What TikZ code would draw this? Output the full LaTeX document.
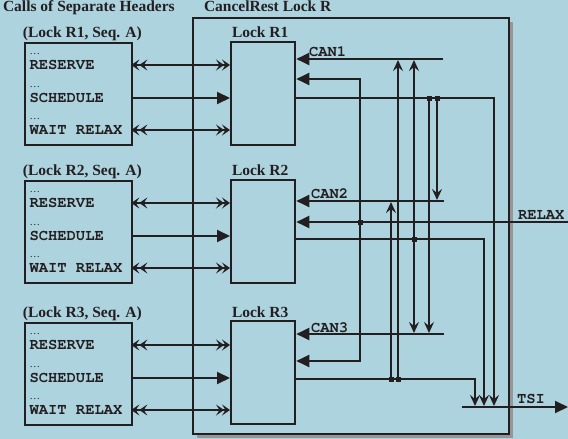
\documentclass[tikz,border=0pt]{standalone}
\usepackage{fontspec}
\setmainfont{Liberation Serif}
\setmonofont{TeX Gyre Cursor}
\usetikzlibrary{arrows.meta,shadows}
\definecolor{bg}{RGB}{173,211,223}
\definecolor{ink}{RGB}{35,31,32}
\definecolor{shade}{RGB}{150,150,150}
\tikzset{
  ttl/.style={anchor=base west, inner sep=0pt, text=ink, font=\fontsize{15.5}{18}\selectfont\bfseries},
  mono/.style={anchor=base west, inner sep=0pt, text=ink, font=\fontsize{15.5}{18}\selectfont\ttfamily\bfseries},
  sig/.style={anchor=base west, inner sep=0pt, text=ink, font=\fontsize{15.5}{18}\selectfont\ttfamily\bfseries},
  ell/.style={anchor=base west, inner sep=0pt, text=ink, font=\fontsize{10.5}{12}\selectfont},
  callbox/.style={draw=ink, line width=2.3pt, minimum width=107pt, minimum height=102pt, anchor=north west, inner sep=0pt},
  lockbox/.style={draw=ink, line width=2.3pt, minimum width=64pt, minimum height=102.5pt, anchor=north west, inner sep=0pt},
  bigbox/.style={draw=ink, fill=bg, line width=2.3pt, minimum width=316pt, minimum height=416pt, anchor=north west, inner sep=0pt,
     drop shadow={shadow xshift=4pt, shadow yshift=-4pt, fill=shade, opacity=1}},
  chev/.tip={Stealth[length=8pt,width=11pt,inset=3.5pt]},
  dtip/.style={{chev[sep=-2pt]chev}-{chev[sep=-2pt]chev}},
  tri/.style={-{Triangle[length=13pt,width=12pt]}},
  vtip/.style={-{Stealth[length=11pt,width=10pt,inset=4pt]}, shorten >=1pt},
  junc/.style={fill=ink, rectangle, minimum size=5pt, inner sep=0pt},
}
\begin{document}
\begin{tikzpicture}[x=1pt,y=-1pt,line width=2pt,color=ink]
\useasboundingbox (0,0) rectangle (568,439);
\fill[bg] (0,0) rectangle (568,439);

% titles
\node[ttl] (t1) at (2,11) {Calls of Separate Headers};
\node[ttl] (t2) at (203,11) {CancelRest Lock R};

% big container
\node[bigbox] (R) at (192,17) {};

% call boxes and lock boxes
\foreach \i/\t/\lt/\lb in {1/42/41/37, 2/180/179/175, 3/322/320/317} {
  \node[callbox] (S\i) at (24,\t) {};
  \node[lockbox] (L\i) at (230,\lt) {};
  \node[ttl] (H\i) at (22,\lb) {(Lock R\i, Seq. A)};
  \node[ttl] (N\i) at (231,\lb) {Lock R\i};
  \coordinate (ra\i) at (0,\t+23);
  \coordinate (rb\i) at (0,\t+56);
  \coordinate (rc\i) at (0,\t+88);
  \node[ell] (da\i) at (28.5,\t+12) {…};
  \node[mono] (ma\i) at (28.5,\t+27.5) {RESERVE};
  \node[ell] (db\i) at (28.5,\t+45) {…};
  \node[mono] (mb\i) at (28.5,\t+60.5) {SCHEDULE};
  \node[ell] (dc\i) at (28.5,\t+77) {…};
  \node[mono] (mc\i) at (28.5,\t+92.5) {WAIT RELAX};
  \draw[dtip] (S\i.east |- ra\i) -- (L\i.west |- ra\i);
  \draw[tri] (S\i.east |- rb\i) -- (L\i.west |- rb\i);
  \draw[dtip] (S\i.east |- rc\i) -- (L\i.west |- rc\i);
}

% input lines
\coordinate (can1) at (443,59);
\coordinate (can2) at (444,201);
\coordinate (can3) at (444,334);
\coordinate (relaxin) at (568,222);
\coordinate (tsiL) at (462,407);
\coordinate (tsiR) at (568,407);
\draw[tri] (can1) -- (L1.east |- can1);
\draw[tri] (can2) -- (L2.east |- can2);
\draw[tri] (can3) -- (L3.east |- can3);
\draw[tri] (relaxin) -- (L2.east |- relaxin);
\draw[tri] (tsiL) -- (tsiR);
\node[sig] (c1) at (308,56.5) {CAN1};
\node[sig] (c2) at (310,198) {CAN2};
\node[sig] (c3) at (310,332) {CAN3};
\node[sig] (rl) at (517,219) {RELAX};
\node[sig] (ts) at (516,403) {TSI};

% RELAX distribution to Lock R1 and R3
\coordinate (jr) at (360,222);
\coordinate (v1t) at (360,79);
\coordinate (v1b) at (360,361);
\draw[tri] (jr) -- (v1t) -- (L1.east |- v1t);
\draw[tri] (jr) -- (v1b) -- (L3.east |- v1b);

% outputs
\coordinate (o1) at (494,98);
\coordinate (o2) at (484,239);
\coordinate (o3) at (475,379);
\draw[vtip] (L1.east |- o1) -- (o1) -- (o1 |- tsiL);
\draw[vtip] (L2.east |- o2) -- (o2) -- (o2 |- tsiL);
\draw[vtip] (L3.east |- o3) -- (o3) -- (o3 |- tsiL);

% cancel connections
\coordinate (j12) at (437,98);
\coordinate (j13) at (429,98);
\coordinate (j2) at (414,239);
\coordinate (j31) at (398,379);
\coordinate (j32) at (391,379);
\draw[vtip] (j12) -- (j12 |- can2);
\draw[vtip] (j13) -- (j13 |- can3);
\draw[vtip] (j2) -- (j2 |- can1);
\draw[vtip] (j2) -- (j2 |- can3);
\draw[vtip] (j31) -- (j31 |- can1);
\draw[vtip] (j32) -- (j32 |- can2);

% junction marks
\node[junc] (q1) at (jr) {};
\node[junc] (q2) at (j12) {};
\node[junc] (q3) at (j13) {};
\node[junc] (q4) at (j2) {};
\node[junc] (q5) at (j31) {};
\node[junc] (q6) at (j32) {};
\end{tikzpicture}
\end{document}
